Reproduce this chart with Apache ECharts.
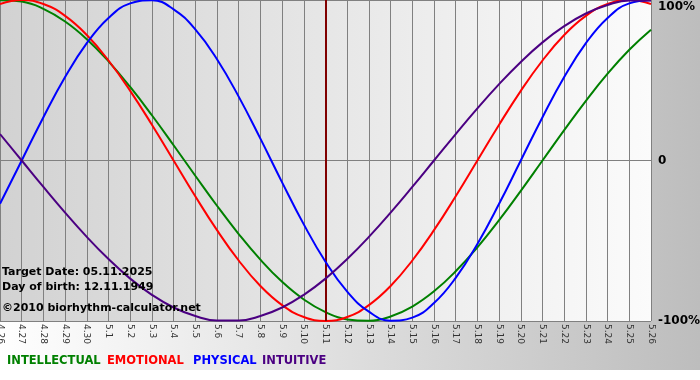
<!DOCTYPE html>
<html><head><meta charset="utf-8">
<script src="https://cdn.jsdelivr.net/npm/echarts@6/dist/echarts.min.js"></script>
<style>html,body{margin:0;padding:0;}#c{width:700px;height:380px;}</style>
</head><body><div id="c"></div>
<script>
const dates = ['4.26','4.27','4.28','4.29','4.30','5.1','5.2','5.3','5.4','5.5','5.6','5.7','5.8','5.9','5.10','5.11','5.12','5.13','5.14','5.15','5.16','5.17','5.18','5.19','5.20','5.21','5.22','5.23','5.24','5.25','5.26'];
const intellectual = [99.9,99.0,94.5,86.6,75.6,61.8,45.8,28.2,9.5,-9.5,-28.2,-45.8,-61.8,-75.6,-86.6,-94.5,-99.0,-99.9,-97.2,-91.0,-81.5,-69.0,-54.1,-37.2,-18.9,0,18.9,37.2,54.1,69.0,81.5];
const emotional = [97.5,100,97.5,90.1,78.2,62.3,43.4,22.3,0,-22.3,-43.4,-62.3,-78.2,-90.1,-97.5,-100,-97.5,-90.1,-78.2,-62.3,-43.4,-22.3,0,22.3,43.4,62.3,78.2,90.1,97.5,100,97.5];
const physical = [-27.0,0,27.0,52.0,73.1,88.8,97.9,99.8,94.2,81.7,63.1,39.8,13.6,-13.6,-39.8,-63.1,-81.7,-94.2,-99.8,-97.9,-88.8,-73.1,-52.0,-27.0,0,27.0,52.0,73.1,88.8,97.9,99.8];
const intuitive = [16.5,0,-16.5,-32.5,-47.6,-61.4,-73.6,-83.7,-91.6,-96.9,-99.7,-99.7,-96.9,-91.6,-83.7,-73.6,-61.4,-47.6,-32.5,-16.5,0,16.5,32.5,47.6,61.4,73.6,83.7,91.6,96.9,99.7,99.7];
const yTicks = {'100':'100%','0':'0','-100':'-100%'};
const targetDay = '5.11';
const legendNames = ['INTELLECTUAL','EMOTIONAL','PHYSICAL','INTUITIVE'];
const colors = ['#008000','#ff0000','#0000ff','#4b0082'];
const infoLines = ['Target Date: 05.11.2025','Day of birth: 12.11.1949','\u00a92010 biorhythm-calculator.net'];

const chart = echarts.init(document.getElementById('c'));
const grad = (a,b)=>new echarts.graphic.LinearGradient(0,0,1,0,[{offset:0,color:a},{offset:1,color:b}]);
const seriesData = [intellectual, emotional, physical, intuitive];
const series = seriesData.map((d,i)=>({
  name: legendNames[i], type:'line', data:d, smooth:0.45, symbol:'none',
  lineStyle:{color:colors[i], width:2}, itemStyle:{color:colors[i]}, z: 3+i,
  markLine: i===0 ? {silent:true, symbol:'none', label:{show:false},
    lineStyle:{color:'#800000', width:2, type:'solid'}, data:[{xAxis:targetDay}]} : undefined
}));
const legendX = [7,107,193,262];
chart.setOption({
  animation:false,
  backgroundColor: grad('#ffffff','#bdbdbd'),
  grid:{left:0, right:49, top:0, bottom:59, show:true, borderWidth:0, containLabel:false, outerBoundsMode:'none',
    backgroundColor: grad('#d2d2d2','#fbfbfb')},
  xAxis:{type:'category', data:dates, boundaryGap:false,
    axisLine:{show:true, lineStyle:{color:'#808080'}},
    axisTick:{show:true, length:4, lineStyle:{color:'#808080'}, alignWithLabel:true},
    axisLabel:{rotate:-90, fontSize:9, color:'#333', margin:3, interval:0, fontFamily:'DejaVu Sans'},
    splitLine:{show:true, lineStyle:{color:'#808080', width:1}}},
  yAxis:{type:'value', min:-100, max:100, interval:100, position:'right',
    axisLine:{show:false}, axisTick:{show:false},
    splitLine:{show:true, lineStyle:{color:'#808080', width:1}},
    axisLabel:{margin:7, fontSize:12, fontWeight:'bold', color:'#000', fontFamily:'DejaVu Sans',
      formatter:(v)=> v===100 ? '{t|'+yTicks['100']+'}' : yTicks[String(v)],
      rich:{t:{padding:[13,0,0,0], fontSize:12, fontWeight:'bold', color:'#000', fontFamily:'DejaVu Sans'}}}},
  graphic:[
    {type:'rect', left:0, top:370, shape:{width:700, height:10}, style:{fill:'#ffffff'}, z:-1},
    ...legendNames.map((n,i)=>({type:'text', left:legendX[i], top:355, z:10,
      style:{text:n, fill:colors[i], font:'bold 11.5px "DejaVu Sans"'}})),
    ...infoLines.map((t,i)=>({type:'text', left:2, top:[267,282,303][i], z:10,
      style:{text:t, fill:'#000', font:'bold 11px "DejaVu Sans"'}}))
  ],
  series
});
</script></body></html>
